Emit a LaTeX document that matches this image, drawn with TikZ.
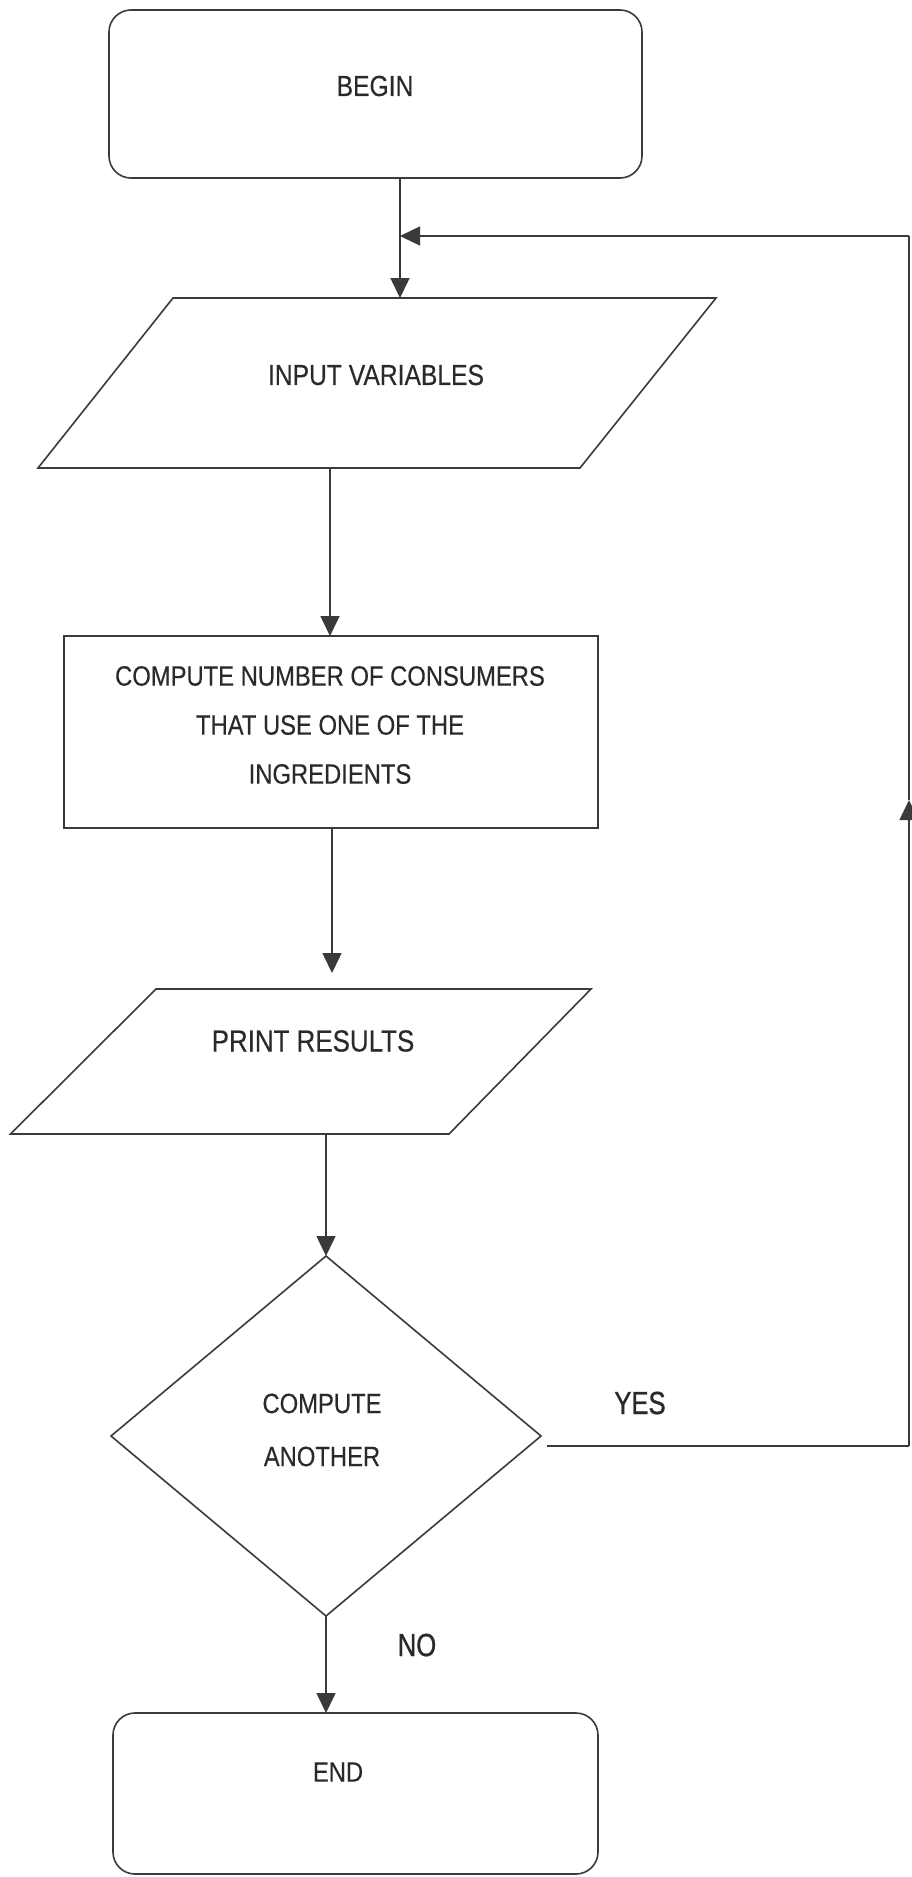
\documentclass[tikz,border=0pt]{standalone}
\usepackage{fontspec}
\newfontfamily\lbl{Liberation Sans}[FakeStretch=0.85, FakeBold=0.3]
\newfontfamily\lblheavy{Liberation Sans}[FakeStretch=0.80, FakeBold=1.0]
\usetikzlibrary{shapes.geometric,arrows.meta}
\definecolor{ink}{HTML}{3A3A3A}
\definecolor{txtc}{HTML}{2A2A2A}
\begin{document}
\begin{tikzpicture}[x=1pt,y=-1pt,
  outline/.style={draw=ink, line width=1.6pt},
  wire/.style={draw=ink, line width=1.5pt},
  flow/.style={wire, -{Triangle[length=20pt,width=19pt]}},
  frame/.style={inner sep=0pt, outer sep=0pt},
  lbltext/.style={text=txtc, font=\lbl\fontsize{29}{33}\selectfont, inner sep=0pt},
  smalltext/.style={lbltext, font=\lbl\fontsize{28}{32}\selectfont},
  branchtext/.style={text=txtc, font=\lblheavy\fontsize{32}{36}\selectfont, inner sep=0pt}]
\useasboundingbox (0,0) rectangle (911,1877);

% terminal: start
\node[outline, frame, rounded corners=22pt, minimum width=533pt, minimum height=168pt] (begin) at (375.5,94) {};
\node[lbltext] (begintxt) at (375,86) {BEGIN};

% input parallelogram
\node[frame, minimum width=678pt, minimum height=170pt] (inp) at (377,383) {};
\draw[outline] ([xshift=135pt]inp.north west) -- (inp.north east)
  -- ([xshift=-136pt]inp.south east) -- (inp.south west) -- cycle;
\node[lbltext] (inptxt) at (376,375) {INPUT VARIABLES};

% process box
\node[outline, frame, minimum width=534pt, minimum height=192pt] (comp) at (331,732) {};
\node[smalltext, align=center] (comptxt) at (330,725)
  {COMPUTE NUMBER OF CONSUMERS\\[17pt]THAT USE ONE OF THE\\[17pt]INGREDIENTS};

% output parallelogram
\node[frame, minimum width=580.5pt, minimum height=145pt] (prt) at (300.75,1061.5) {};
\draw[outline] ([xshift=145.5pt]prt.north west) -- (prt.north east)
  -- ([xshift=-142pt]prt.south east) -- (prt.south west) -- cycle;
\node[lbltext, font=\lbl\fontsize{30.5}{34}\selectfont] (prttxt) at (313,1041) {PRINT RESULTS};

% decision
\node[outline, frame, diamond, minimum width=430pt, minimum height=360pt] (dec) at (326,1436) {};
\node[smalltext, align=center] (dectxt) at (322,1430) {COMPUTE\\[21pt]ANOTHER};

% terminal: stop
\node[outline, frame, rounded corners=22pt, minimum width=485pt, minimum height=161pt] (end) at (355.5,1793.5) {};
\node[smalltext] (endtxt) at (338,1772) {END};

% branch labels
\node[branchtext] (yes) at (640,1403) {YES};
\node[branchtext] (no) at (417,1645) {NO};

% connector columns and loop-back rail
\coordinate (colA) at (400,0);
\coordinate (colB) at (330,0);
\coordinate (colC) at (332,0);
\coordinate (yesend) at (909,1446);
\coordinate (railup) at (909,800);
\coordinate (railtop) at (909,236);
\coordinate (merge) at (400,236);

\draw[flow] (begin.south -| colA) -- (inp.north -| colA);
\draw[flow] (inp.south -| colB) -- (comp.north -| colB);
\draw[flow, shorten >=16pt] (comp.south -| colC) -- (prt.north -| colC);
\draw[flow] (prt.south -| dec.north) -- (dec.north);
\draw[flow] (dec.south) -- (end.north -| dec.south);

% YES branch back to the input
\draw[wire] ([shift={(6pt,-10pt)}]dec.east) -- (yesend);
\draw[flow] (yesend) -- (railup);
\draw[wire] (railup) -- (railtop);
\draw[flow] (railtop) -- (merge);
\end{tikzpicture}
\end{document}
